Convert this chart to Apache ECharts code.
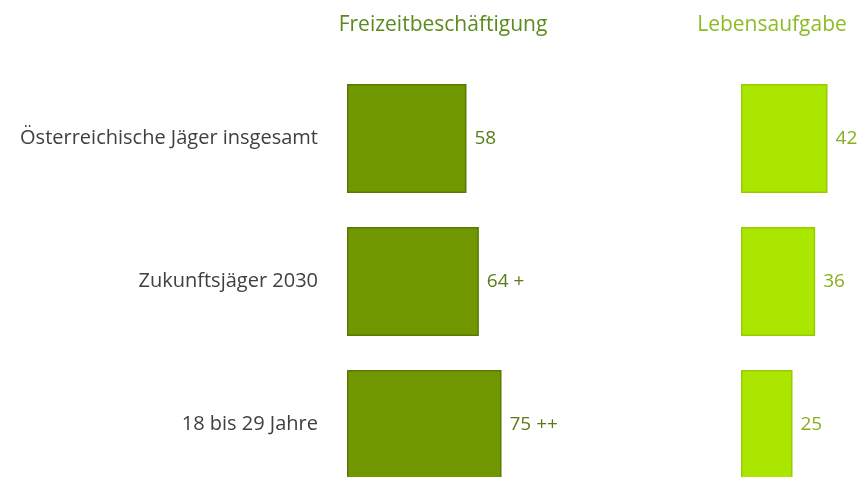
<!DOCTYPE html>
<html>
<head>
<meta charset="utf-8">
<script src="https://cdn.jsdelivr.net/npm/echarts@6/dist/echarts.min.js"></script>
<style>
  html, body { margin: 0; padding: 0; background: #fff; overflow: hidden; }
  /* Diagramm ist unten abgeschnitten, wie im Original */
  #main { width: 860px; height: 500px; }
</style>
</head>
<body>
<div id="main"></div>
<script>
// Kategorien (von oben nach unten)
var categories = ['Österreichische Jäger insgesamt', 'Zukunftsjäger 2030', '18 bis 29 Jahre'];
var freizeit = [58, 64, 75];
var freizeitSig = ['', '+', '++'];
var lebensaufgabe = [42, 36, 25];

var font = '"Open Sans", sans-serif';

var chart = echarts.init(document.getElementById('main'));
chart.setOption({
  animation: false,
  textStyle: { fontFamily: font },
  title: [
    {
      text: 'Freizeitbeschäftigung',
      left: 438, top: 10, textAlign: 'center',
      textStyle: { color: '#5c8a1e', fontSize: 21, fontWeight: 'normal', fontFamily: font }
    },
    {
      text: 'Lebensaufgabe',
      left: 767, top: 10, textAlign: 'center',
      textStyle: { color: '#8cbc24', fontSize: 21, fontWeight: 'normal', fontFamily: font }
    }
  ],
  grid: [
    { left: 347, top: 67, width: 206, height: 429 },
    { left: 741, top: 67, width: 103, height: 429 }
  ],
  xAxis: [
    { gridIndex: 0, type: 'value', min: 0, max: 100, show: false },
    { gridIndex: 1, type: 'value', min: 0, max: 50, show: false }
  ],
  yAxis: [
    {
      gridIndex: 0, type: 'category', data: categories, inverse: true,
      axisLine: { show: false }, axisTick: { show: false }, splitLine: { show: false },
      axisLabel: { margin: 29, color: '#404040', fontSize: 20, fontFamily: font }
    },
    {
      gridIndex: 1, type: 'category', data: categories, inverse: true,
      axisLine: { show: false }, axisTick: { show: false }, splitLine: { show: false },
      axisLabel: { show: false }
    }
  ],
  series: [
    {
      type: 'bar', xAxisIndex: 0, yAxisIndex: 0,
      data: freizeit, barWidth: 109,
      itemStyle: { color: '#709600', borderColor: '#587a00', borderWidth: 1.5 },
      label: {
        show: true, position: 'right', distance: 8,
        color: '#5a7a1a', fontSize: 19, fontFamily: font,
        formatter: function (p) {
          var s = freizeitSig[p.dataIndex];
          return p.value + (s ? ' ' + s : '');
        }
      }
    },
    {
      type: 'bar', xAxisIndex: 1, yAxisIndex: 1,
      data: lebensaufgabe, barWidth: 109,
      itemStyle: { color: '#aae600', borderColor: '#96cc00', borderWidth: 1.5 },
      label: {
        show: true, position: 'right', distance: 8,
        color: '#86b020', fontSize: 19, fontFamily: font
      }
    }
  ]
});
</script>
</body>
</html>
